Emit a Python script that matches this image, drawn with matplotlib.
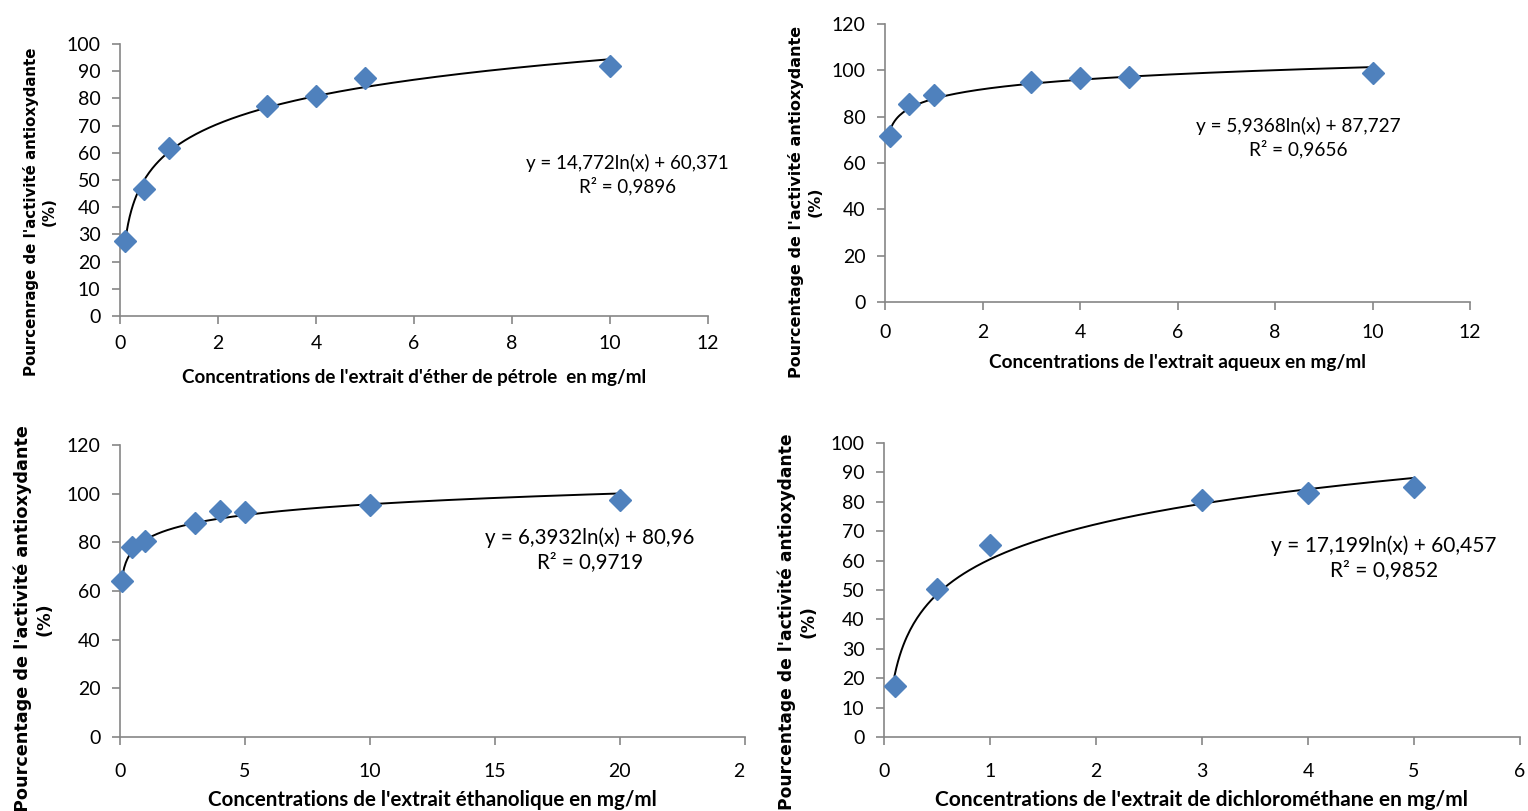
import matplotlib
matplotlib.use("Agg")
import matplotlib.pyplot as plt
import numpy as np
from matplotlib.transforms import Bbox, TransformedBbox

# data
conc_ether = [0.1, 0.5, 1, 3, 4, 5, 10]
act_ether = [27.5, 46.8, 61.8, 77.2, 81.0, 87.5, 91.8]

conc_aqueux = [0.1, 0.5, 1, 3, 4, 5, 10]
act_aqueux = [71.5, 85.5, 89.5, 94.8, 96.5, 97.3, 99.0]

conc_ethanol = [0.1, 0.5, 1, 3, 4, 5, 10, 20]
act_ethanol = [64.2, 78.2, 80.5, 87.8, 93.0, 92.3, 95.5, 97.5]

conc_dichloro = [0.1, 0.5, 1, 3, 4, 5]
act_dichloro = [17.5, 50.5, 65.2, 80.5, 83.0, 85.0]

# log trend coefficients (a, b) as printed on the chart: y = a ln(x) + b
coef_ether = (14.772, 60.371)
coef_aqueux = (5.9368, 87.727)
coef_ethanol = (6.3932, 80.96)
coef_dichloro = (17.199, 60.457)

eq_ether = "y = 14,772ln(x) + 60,371\nR² = 0,9896"
eq_aqueux = "y = 5,9368ln(x) + 87,727\nR² = 0,9656"
eq_ethanol = "y = 6,3932ln(x) + 80,96\nR² = 0,9719"
eq_dichloro = "y = 17,199ln(x) + 60,457\nR² = 0,9852"

xlab_ether = "Concentrations de l'extrait d'éther de pétrole  en mg/ml"
xlab_aqueux = "Concentrations de l'extrait aqueux en mg/ml"
xlab_ethanol = "Concentrations de l'extrait éthanolique en mg/ml"
xlab_dichloro = "Concentrations de l'extrait de dichlorométhane en mg/ml"

ylab_typo = "Pourcenrage de l'activité antioxydante\n(%)"
ylab = "Pourcentage de l'activité antioxydante\n(%)"

blue = "#4F81BD"
grey = "#868686"
tick_font = "Lato"

fig = plt.figure(figsize=(15.28, 8.11), dpi=100)


def panel(rect, x, y, coef, eq, eq_pos, xlab, ylab_txt, xlim, xticks, ylim, yticks,
          xlab_y, ylab_xy, ylab_size, txt_size, pad):
    ax = fig.add_axes(rect)
    xs = np.linspace(min(x), max(x), 300)
    ax.plot(xs, coef[0] * np.log(xs) + coef[1], color="black", lw=1.4, zorder=2)
    ax.plot(x, y, linestyle="none", marker="D", markersize=11, color=blue,
            markeredgecolor=blue, zorder=3, clip_on=False)
    ax.set_xlim(*xlim)
    ax.set_ylim(*ylim)
    ax.set_xticks(xticks)
    ax.set_yticks(yticks)
    for s in ["top", "right"]:
        ax.spines[s].set_visible(False)
    for s in ["left", "bottom"]:
        ax.spines[s].set_color(grey)
        ax.spines[s].set_linewidth(1.2)
    ax.tick_params(direction="out", length=6, width=1.2, color=grey,
                   labelsize=14, pad=8)
    ax.tick_params(axis="x", pad=pad)
    for lab in ax.get_xticklabels() + ax.get_yticklabels():
        lab.set_family(tick_font)
    ax.text(eq_pos[0], eq_pos[1], eq, ha="center", va="center", fontsize=txt_size,
            family=tick_font, linespacing=1.3)
    # axis titles placed in figure coords
    fig.text(rect[0] + rect[2] / 2, xlab_y, xlab, ha="center", va="center",
             fontsize=txt_size, family=tick_font, fontweight="bold")
    fig.text(ylab_xy[0], ylab_xy[1], ylab_txt, ha="center", va="center",
             rotation=90, fontsize=ylab_size, family="DejaVu Sans",
             fontweight="bold", linespacing=1.25)
    return ax


ax1 = panel([0.0785, 0.6104, 0.3848, 0.3354], conc_ether, act_ether, coef_ether,
            eq_ether, (10.35, 52), xlab_ether, ylab_typo,
            (0, 12), range(0, 13, 2), (0, 100), range(0, 101, 10),
            1 - 377 / 811, (0.026, 1 - 212 / 811), 10.8, 13.5, 8)

ax2 = panel([0.5792, 0.6276, 0.3829, 0.3428], conc_aqueux, act_aqueux, coef_aqueux,
            eq_aqueux, (8.47, 71), xlab_aqueux, ylab,
            (0, 12), range(0, 13, 2), (0, 120), range(0, 121, 20),
            1 - 363 / 811, (0.527, 1 - 202 / 811), 11.5, 13.7, 10)

ax3 = panel([0.0785, 0.0912, 0.4090, 0.3600], conc_ethanol, act_ethanol, coef_ethanol,
            eq_ethanol, (18.8, 77), xlab_ethanol, ylab,
            (0, 25), range(0, 26, 5), (0, 120), range(0, 121, 20),
            1 - 800 / 811, (0.022, 1 - 619 / 811), 12.7, 14.8, 13)

ax4 = panel([0.5785, 0.0912, 0.4162, 0.3625], conc_dichloro, act_dichloro, coef_dichloro,
            eq_dichloro, (4.72, 61), xlab_dichloro, ylab,
            (0, 6), range(0, 7), (0, 100), range(0, 101, 10),
            1 - 800 / 811, (0.522, 1 - 622 / 811), 12.3, 15, 13)

# the ethanol panel is cropped at its right edge in the original
clip = TransformedBbox(Bbox([[0, 0], [0.4876, 1]]), fig.transFigure)
for lab in ax3.get_xticklabels():
    lab.set_clip_box(clip)
    lab.set_clip_on(True)

fig.savefig("out.png", dpi=100)
